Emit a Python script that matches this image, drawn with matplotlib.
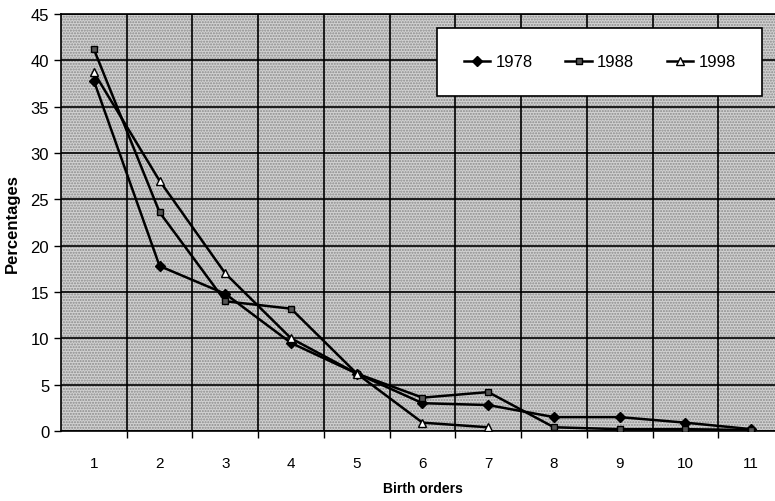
import matplotlib
matplotlib.use("Agg")
import matplotlib.pyplot as plt
from matplotlib.patches import Rectangle

plt.rcParams['font.family'] = ['Liberation Sans', 'DejaVu Sans']
plt.rcParams['hatch.linewidth'] = 1.0

# birth orders and percentages per year
orders = [1, 2, 3, 4, 5, 6, 7, 8, 9, 10, 11]
y1978 = [37.8, 17.8, 14.8, 9.5, 6.2, 3.0, 2.8, 1.5, 1.5, 0.9, 0.2]
y1988 = [41.2, 23.6, 14.0, 13.2, 6.2, 3.6, 4.2, 0.4, 0.2, 0.2, 0.1]
orders98 = [1, 2, 3, 4, 5, 6, 7]
y1998 = [38.7, 27.0, 17.0, 10.0, 6.2, 0.9, 0.4]

fig = plt.figure(figsize=(7.75, 5.02), dpi=100)
ax = fig.add_axes([61/775, 70/502, 723/775, 417/502])

# dotted background like the scanned chart
ax.patch.set_facecolor('#d2d2d2')
bg = Rectangle((0, 0), 1, 1, transform=ax.transAxes, facecolor='#d2d2d2',
               edgecolor='#8a8a8a', hatch='......', lw=0, zorder=0)
ax.add_patch(bg)

ax.plot(orders, y1978, color='black', lw=1.8, marker='D', ms=5,
        mfc='black', mec='black', label='1978', zorder=3)
ax.plot(orders, y1988, color='black', lw=1.8, marker='s', ms=5,
        mfc='#555555', mec='black', label='1988', zorder=3)
ax.plot(orders98, y1998, color='black', lw=1.8, marker='^', ms=6,
        mfc='white', mec='black', label='1998', zorder=3)

ax.set_xlim(0.5, 11.5)
ax.set_ylim(0, 45)
ax.set_yticks(range(0, 46, 5))
ax.set_xticks(orders)
ax.set_xticks([o + 0.5 for o in orders[:-1]], minor=True)
ax.grid(True, which='major', axis='y', color='black', lw=1.2, zorder=1)
ax.grid(True, which='minor', axis='x', color='black', lw=1.2, zorder=1)
ax.set_axisbelow(True)

ax.tick_params(axis='x', which='major', length=0, pad=18, labelsize=11)
ax.tick_params(axis='x', which='minor', length=5, width=1, direction='out')
ax.tick_params(axis='y', length=5, width=1, direction='out', labelsize=12)

for s in ax.spines.values():
    s.set_color('black')
    s.set_linewidth(1.2)

ax.set_xlabel('Birth orders', fontsize=10, fontweight='bold', labelpad=8)
ax.set_ylabel('Percentages', fontsize=12, fontweight='bold', labelpad=8)

leg = ax.legend(loc='center', bbox_to_anchor=(0.52, 0.80, 0.45, 0.17),
                mode='expand', ncol=3, frameon=True, fancybox=False,
                fontsize=12, handlelength=1.6, handletextpad=0.3,
                borderpad=1.6, borderaxespad=0)
leg.get_frame().set_edgecolor('black')
leg.get_frame().set_linewidth(1.2)
leg.get_frame().set_facecolor('white')
leg.get_frame().set_alpha(1)

fig.savefig('out.png', dpi=100)
